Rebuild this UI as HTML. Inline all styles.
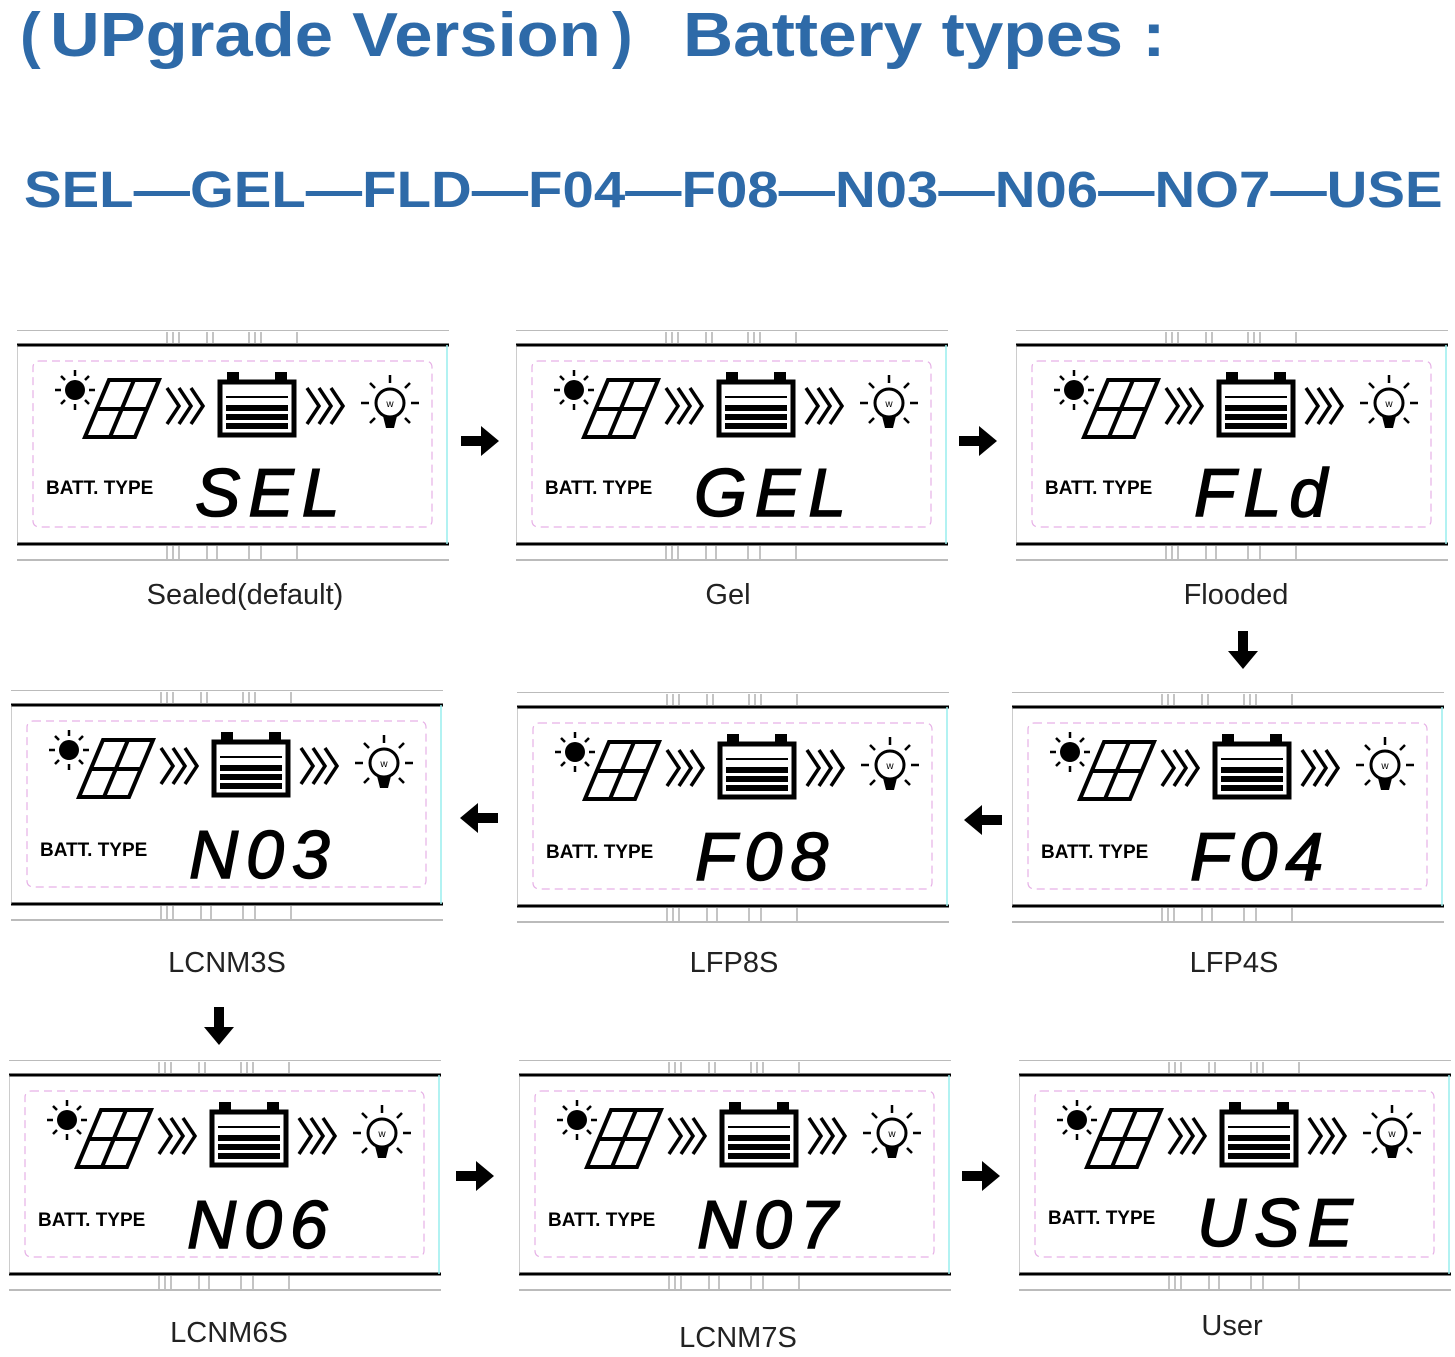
<!DOCTYPE html>
<html><head><meta charset="utf-8"><style>
body{margin:0;width:1455px;height:1357px;background:#fff;position:relative;overflow:hidden;font-family:"Liberation Sans",sans-serif}
.t{position:absolute;color:#2e6aa8;font-weight:bold;white-space:nowrap}
.p{position:absolute;width:440px;height:235px}
.lb{position:absolute;font-size:29px;color:#222;transform:translateX(-50%);white-space:nowrap}
.cd{font-size:68px;font-style:italic;font-family:"Liberation Sans",sans-serif;letter-spacing:8px;stroke:#000;stroke-width:1.5}
</style></head><body>
<div class="t" style="left:20px;top:0px;font-size:62px">(</div>
<div class="t" style="left:50px;top:0px;font-size:62px;transform:scaleX(1.11);transform-origin:left">UPgrade Version</div>
<div class="t" style="left:612px;top:0px;font-size:62px">)</div>
<div class="t" style="left:683px;top:0px;font-size:62px;transform:scaleX(1.12);transform-origin:left">Battery types :</div>
<div class="t" style="left:24px;top:160px;font-size:51px;transform:scaleX(1.105);transform-origin:left">SEL—GEL—FLD—F04—F08—N03—N06—NO7—USE</div>

<svg width="0" height="0" style="position:absolute"><defs>
<g id="ic">
<g stroke="#000" stroke-width="3" fill="none">
<line x1="0" y1="0" x2="432" y2="0" stroke-width="1" stroke="#777"/>
<line x1="0" y1="15" x2="432" y2="15"/>
<line x1="0" y1="214" x2="432" y2="214"/>
<line x1="0" y1="230" x2="432" y2="230" stroke-width="1" stroke="#777"/>
<line x1="0" y1="15" x2="0" y2="214" stroke-width="1" stroke="#999"/>
<line x1="430" y1="15" x2="430" y2="214" stroke-width="1.5" stroke="#9ee"/>
<rect x="16" y="31" width="399" height="166" rx="6" stroke="#e6b0e6" stroke-width="1.2" stroke-dasharray="8,5"/>
<g stroke="#888" stroke-width="1"><path d="M150 2v12M156 2v12M162 2v12M190 2v12M196 2v12M232 2v12M238 2v12M244 2v12M280 2v12M150 216v13M156 216v13M162 216v13M190 216v13M200 216v13M232 216v13M244 216v13M280 216v13"/></g>
<path d="M68 107 L92 50 L142 50 L118 107 Z M80 79 L130 79 M117 50 L93 107" stroke-width="4"/>
<path d="M150 58l12 18-12 18M162 58l12 18-12 18M174 58l12 18-12 18M290 58l12 18-12 18M302 58l12 18-12 18M314 58l12 18-12 18" stroke-width="3.5"/>
<rect x="203" y="52" width="74" height="53" stroke-width="5"/>
<circle cx="373" cy="73" r="14" stroke-width="3"/>
<path d="M373 45v8M352 73h-8M394 73h8M358 58l-5-5M388 58l5-5M358 88l-5 5M388 88l5 5M44 60h-6M72 60h6M58 46v-6M58 74v6M48 50l-4-4M68 50l4-4M48 70l-4 4M68 70l4 4" stroke-width="2.5"/>
</g>
<rect x="210" y="42" width="12" height="10"/><rect x="258" y="42" width="12" height="10"/>
<rect x="209" y="75" width="62" height="6"/><rect x="209" y="84" width="62" height="6"/><rect x="209" y="93" width="62" height="6"/>
<rect x="209" y="66" width="62" height="2"/>
<circle cx="58" cy="60" r="10"/>
<path d="M366 86h14l-3 12h-8z"/>
<text x="373" y="77" font-size="10" text-anchor="middle" font-family="Liberation Sans">w</text>
</g>
</defs></svg>

<svg class="p" style="left:17px;top:330px"><use href="#ic"/><text x="29" y="164" font-size="19" font-weight="bold" font-family="Liberation Sans">BATT. TYPE</text><text class="cd" x="178" y="186">SEL</text></svg>
<svg class="p" style="left:516px;top:330px"><use href="#ic"/><text x="29" y="164" font-size="19" font-weight="bold" font-family="Liberation Sans">BATT. TYPE</text><text class="cd" x="178" y="186">GEL</text></svg>
<svg class="p" style="left:1016px;top:330px"><use href="#ic"/><text x="29" y="164" font-size="19" font-weight="bold" font-family="Liberation Sans">BATT. TYPE</text><text class="cd" x="178" y="186">FLd</text></svg>

<svg class="p" style="left:11px;top:690px"><use href="#ic"/><text x="29" y="166" font-size="19" font-weight="bold" font-family="Liberation Sans">BATT. TYPE</text><text class="cd" x="178" y="188">N03</text></svg>
<svg class="p" style="left:517px;top:692px"><use href="#ic"/><text x="29" y="166" font-size="19" font-weight="bold" font-family="Liberation Sans">BATT. TYPE</text><text class="cd" x="178" y="188">F08</text></svg>
<svg class="p" style="left:1012px;top:692px"><use href="#ic"/><text x="29" y="166" font-size="19" font-weight="bold" font-family="Liberation Sans">BATT. TYPE</text><text class="cd" x="178" y="188">F04</text></svg>

<svg class="p" style="left:9px;top:1060px"><use href="#ic"/><text x="29" y="166" font-size="19" font-weight="bold" font-family="Liberation Sans">BATT. TYPE</text><text class="cd" x="178" y="188">N06</text></svg>
<svg class="p" style="left:519px;top:1060px"><use href="#ic"/><text x="29" y="166" font-size="19" font-weight="bold" font-family="Liberation Sans">BATT. TYPE</text><text class="cd" x="178" y="188">N07</text></svg>
<svg class="p" style="left:1019px;top:1060px"><use href="#ic"/><text x="29" y="164" font-size="19" font-weight="bold" font-family="Liberation Sans">BATT. TYPE</text><text class="cd" x="178" y="186">USE</text></svg>

<div class="lb" style="left:245px;top:579px">Sealed(default)</div>
<div class="lb" style="left:728px;top:579px">Gel</div>
<div class="lb" style="left:1236px;top:579px">Flooded</div>
<div class="lb" style="left:227px;top:947px">LCNM3S</div>
<div class="lb" style="left:734px;top:947px">LFP8S</div>
<div class="lb" style="left:1234px;top:947px">LFP4S</div>
<div class="lb" style="left:229px;top:1317px">LCNM6S</div>
<div class="lb" style="left:738px;top:1322px">LCNM7S</div>
<div class="lb" style="left:1232px;top:1310px">User</div>

<svg style="position:absolute;left:0;top:0" width="1455" height="1357">
<defs><path id="ra" d="M-20 -5h20v-10l18 15-18 15v-10h-20z"/></defs>
<use href="#ra" x="481" y="441"/>
<use href="#ra" x="979" y="441"/>
<use href="#ra" transform="translate(1243,651) rotate(90)"/>
<use href="#ra" transform="translate(478,818) rotate(180)"/>
<use href="#ra" transform="translate(982,820) rotate(180)"/>
<use href="#ra" transform="translate(219,1027) rotate(90)"/>
<use href="#ra" x="476" y="1176"/>
<use href="#ra" x="982" y="1176"/>
</svg>
</body></html>
